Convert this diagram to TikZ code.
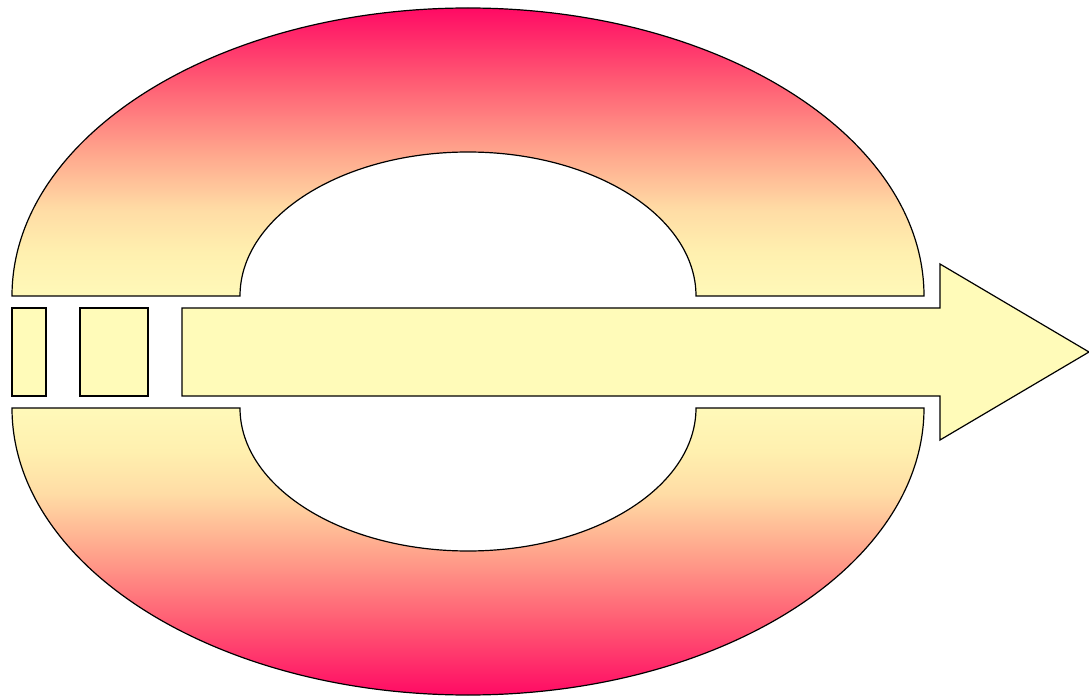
\documentclass[tikz,border=0pt]{standalone}
\definecolor{ringpink}{RGB}{255,10,100}
\definecolor{ringa}{RGB}{255,90,115}
\definecolor{ringb}{RGB}{255,165,140}
\definecolor{ringc}{RGB}{255,220,165}
\definecolor{ringd}{RGB}{255,240,175}
\definecolor{ringyel}{RGB}{255,249,185}
\definecolor{arrowyel}{RGB}{255,251,185}
\pgfdeclareverticalshading{upring}{100bp}{color(0bp)=(ringyel); color(25bp)=(ringyel);
  color(32.5bp)=(ringd); color(40bp)=(ringc); color(50bp)=(ringb);
  color(62.5bp)=(ringa); color(75bp)=(ringpink); color(100bp)=(ringpink)}
\pgfdeclareverticalshading{lowring}{100bp}{color(0bp)=(ringpink); color(25bp)=(ringpink);
  color(37.5bp)=(ringa); color(50bp)=(ringb); color(60bp)=(ringc);
  color(67.5bp)=(ringd); color(75bp)=(ringyel); color(100bp)=(ringyel)}
\begin{document}
\begin{tikzpicture}[x=1pt,y=1pt]
\tikzset{outline/.style={draw=black,line width=1.2pt,line join=miter}}
\useasboundingbox (0,0) rectangle (1089,697);
% upper half ring
\shade[outline,shading=upring]
  (12,401) arc[start angle=180,end angle=0,x radius=456,y radius=288]
  -- (696,401) arc[start angle=0,end angle=180,x radius=228,y radius=144]
  -- cycle;
% lower half ring
\shade[outline,shading=lowring]
  (12,289) arc[start angle=180,end angle=360,x radius=456,y radius=287]
  -- (696,289) arc[start angle=360,end angle=180,x radius=228,y radius=143]
  -- cycle;
% small rectangles
\draw[outline,fill=arrowyel] (12,301) rectangle (46,389);
\draw[outline,fill=arrowyel] (80,301) rectangle (148,389);
% arrow
\draw[outline,fill=arrowyel] (182,389) -- (940,389) -- (940,433) -- (1089,345)
  -- (940,257) -- (940,301) -- (182,301) -- cycle;
\end{tikzpicture}
\end{document}
